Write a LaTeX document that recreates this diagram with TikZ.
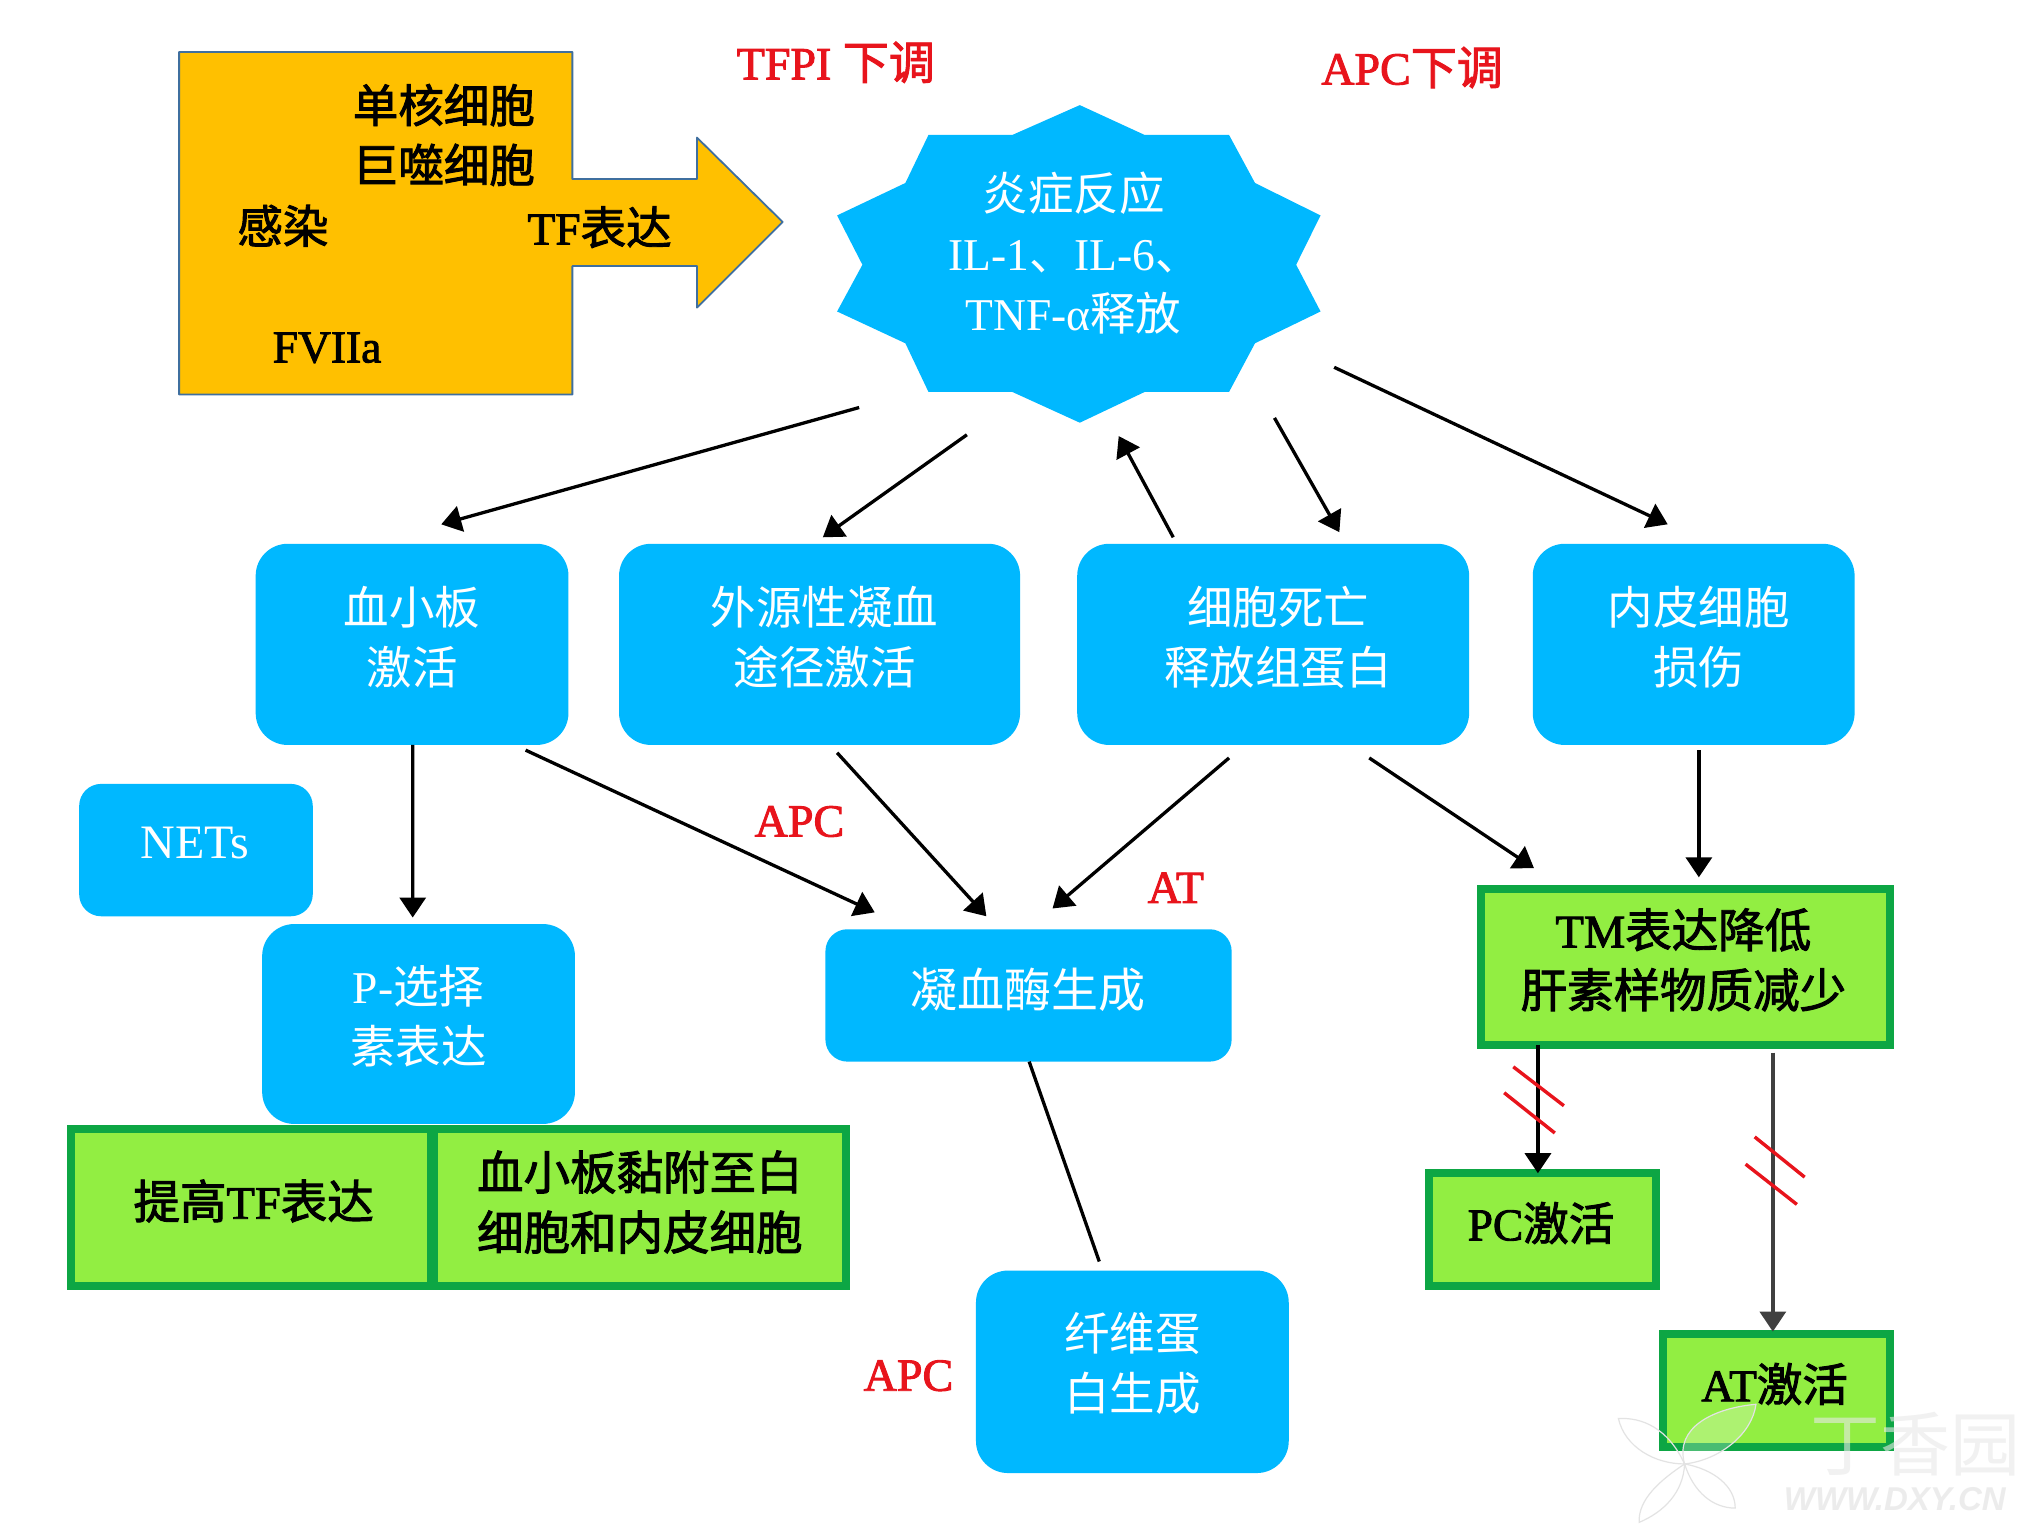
\documentclass[tikz,border=0pt]{standalone}
\usepackage{fontspec}
\usetikzlibrary{arrows.meta}
\setmainfont{Liberation Serif}
\newfontfamily\cjk{Noto Sans CJK SC}
\newfontfamily\cjkb[FakeBold=2]{Noto Sans CJK SC}
\newfontfamily\latb[FakeBold=2]{Liberation Serif}
\newfontfamily\wm{Liberation Sans}
\definecolor{sky}{HTML}{00B8FF}
\definecolor{amber}{HTML}{FFC000}
\definecolor{leaf}{HTML}{92EE42}
\definecolor{leafedge}{HTML}{0DA644}
\definecolor{alert}{HTML}{E8141C}
\def\uu{1.2978pt}
\let\zhfont\cjk
\newcommand{\zh}[1]{{\zhfont #1}}
\newcommand{\sh}[1]{\hspace*{#1pt}}
\newcommand{\ub}[1]{\\[\dimexpr #1pt*2-52pt\relax]\mbox{}}
\tikzset{
  x=1.2978pt,y=-1.2978pt,
  txt/.style={font=\fontsize{45.5}{60}\selectfont,align=center,inner sep=0pt,outer sep=0pt},
  fs/.style={font=\fontsize{#1}{60}\selectfont},
  heavy/.style={execute at begin node={\latb\let\zhfont\cjkb}},
  bluebox/.style={txt,fill=sky,text=white,rounded corners=32pt},
  greenbox/.style={txt,heavy,fill=leaf,draw=leafedge,line width=8pt,text=black,outer sep=0pt},
  dark/.style={txt,heavy,text=black},
  redtxt/.style={txt,heavy,text=alert,font=\fontsize{46}{60}\selectfont},
  arr/.style={line width=3.3pt,black,-{Triangle[length=20pt,width=26pt]}},
  plainline/.style={line width=3.3pt,black},
  slash/.style={line width=3.4pt,alert},
  wmline/.style={line width=1.2pt,black!11}
}
\begin{document}
\begin{tikzpicture}
\useasboundingbox (0,0) rectangle (1568,1183.5);
\fill[white] (0,0) rectangle (1568,1183.5);
% yellow block arrow
\definecolor{amberedge}{HTML}{3F6F9F}
\draw[fill=amber,draw=amberedge,line width=1.8pt,line join=round]
  (138,40) -- (441,40) -- (441,138) -- (537,138) -- (537,106) -- (603,171) -- (537,237) -- (537,205) -- (441,205) -- (441,304) -- (138,304) -- cycle;
\node[dark] (mono) at (342,81) {\zh{单核细胞}};
\node[dark] (macro) at (342,127) {\zh{巨噬细胞}};
\node[dark] (inf) at (218,174) {\zh{感染}};
\node[dark] (tf) at (462,175) {TF\zh{表达}};
\node[dark] (f7) at (252,268) {FVIIa};
% star
\fill[sky] (832,81) -- (882,104) -- (947,104) -- (967,141) -- (1017.5,166) -- (998.7,204) -- (1017.5,240) -- (967,264.5) -- (947,302) -- (882,302) -- (832,325.7) -- (780,302) -- (715.4,302) -- (697.6,264.5) -- (645,240) -- (664.5,204) -- (645,166) -- (697.6,141) -- (715.4,104) -- (780,104) -- cycle;
\node[txt,text=white] (star) at (831,203.5) {\sh{-10}\zh{炎症反应}\\ \sh{-8}IL-1\zh{、}IL-6\zh{、}\\ \sh{-10}TNF-α\zh{释放}\ub{8.5}};
% blue boxes
\node[bluebox,minimum width=241*\uu,minimum height=155*\uu] (plate) at (317.5,496.5) {\zh{血小板}\\\zh{激活}\ub{5}};
\node[bluebox,minimum width=309*\uu,minimum height=155*\uu] (ext) at (631.5,496.5) {\sh{10}\zh{外源性凝血}\\\sh{10}\zh{途径激活}\ub{5}};
\node[bluebox,minimum width=302*\uu,minimum height=155*\uu] (death) at (981,496.5) {\sh{10}\zh{细胞死亡}\\\sh{10}\zh{释放组蛋白}\ub{5}};
\node[bluebox,minimum width=248*\uu,minimum height=155*\uu] (endo) at (1305,496.5) {\sh{10}\zh{内皮细胞}\\\sh{10}\zh{损伤}\ub{5}};
\node[bluebox,fs=48,minimum width=180*\uu,minimum height=102*\uu,rounded corners=22pt] (nets) at (151,655) {\sh{-2}NETs\ub{3}};
\node[bluebox,minimum width=241*\uu,minimum height=154*\uu] (psel) at (322.5,789) {P-\zh{选择}\\\zh{素表达}\ub{5.5}};
\node[bluebox,fs=47,minimum width=313*\uu,minimum height=102*\uu,rounded corners=22pt] (thr) at (792.5,767) {\sh{-2}\zh{凝血酶生成}\ub{3.5}};
\node[bluebox,minimum width=241*\uu,minimum height=156*\uu] (fib) at (872.5,1057) {\zh{纤维蛋}\\\zh{白生成}\ub{6}};
% green boxes
\node[greenbox,fs=46.5,minimum width=315*\uu,minimum height=120*\uu] (tm) at (1299,745) {\sh{-5}TM\zh{表达降低}\\\sh{-5}\zh{肝素样物质减少}\ub{5}};
\node[greenbox,minimum width=175*\uu,minimum height=87*\uu] (pc) at (1188.5,947.5) {\sh{-3}PC\zh{激活}\ub{4.5}};
\node[greenbox,minimum width=175*\uu,minimum height=87*\uu] (at) at (1368.5,1071.5) {\sh{-3}AT\zh{激活}\ub{4.5}};
\node[greenbox,fs=46.5,minimum width=277*\uu,minimum height=121*\uu] (tfup) at (193.5,930.5) {\sh{5}\zh{提高}TF\zh{表达}\ub{4.5}};
\node[greenbox,fs=46.5,minimum width=317*\uu,minimum height=121*\uu] (adh) at (493,930.5) {\zh{血小板黏附至白}\\\zh{细胞和内皮细胞}\ub{3.5}};
% red labels
\node[redtxt] (l1) at (644,48) {TFPI \zh{下调}};
\node[redtxt] (l2) at (1088,52) {APC\zh{下调}};
\node[redtxt] (l3) at (616,633) {APC};
\node[redtxt] (l4) at (906,684) {AT};
\node[redtxt] (l5) at (700,1060) {APC};
% connectors
\draw[arr] ([shift={(-169,110.5)}]star.center) -- ([shift={(22.5,-15)}]plate.north);
\draw[arr] ([shift={(-86,131.5)}]star.center) -- ([shift={(2.5,-5)}]ext.north);
\draw[arr] ([shift={(-77,-5)}]death.north) -- ([shift={(31,132.5)}]star.center);
\draw[arr] ([shift={(151,118.5)}]star.center) -- ([shift={(51,-9)}]death.north);
\draw[arr] ([shift={(197,79.5)}]star.center) -- ([shift={(-20,-15)}]endo.north);
\draw[arr] ([shift={(0.5,0)}]plate.south) -- ([shift={(-4.5,-5)}]psel.north);
\draw[arr] ([shift={(87.5,4)}]plate.south) -- ([shift={(-118.5,-13)}]thr.north);
\draw[arr] ([shift={(13.5,6)}]ext.south) -- ([shift={(-32.5,-10)}]thr.north);
\draw[arr] ([shift={(-34,10)}]death.south) -- ([shift={(18.5,-16)}]thr.north);
\draw[arr] ([shift={(74,10)}]death.south) -- ([shift={(-117,-16)}]tm.north);
\draw[arr] ([shift={(4,4)}]endo.south) -- ([shift={(10,-9)}]tm.north);
\draw[plainline] ([shift={(0.5,0)}]thr.south) -- ([shift={(-25.5,-7)}]fib.north);
\draw[arr] ([shift={(-114,0)}]tm.south) -- ([shift={(-3.5,0)}]pc.north);
\draw[arr,black!75] ([shift={(67,6)}]tm.south) -- ([shift={(-2.5,-2)}]at.north);
% red double strokes
\draw[slash] (1166,822) -- (1205,852);
\draw[slash] (1159,842) -- (1198,873);
\draw[slash] (1352,876) -- (1390.5,907);
\draw[slash] (1345,897) -- (1384.5,928);
% watermark
\node[inner sep=0pt,text=black!9,text opacity=.6,font=\fontsize{70}{70}\selectfont] (wm1) at (1476,1113) {\zh{丁香园}};
\node[inner sep=0pt,text=black!9,text opacity=.8,font=\fontsize{33}{33}\selectfont\bfseries\itshape\wm] (wm2) at (1460,1155) {WWW.DXY.CN};
\draw[wmline] (1298,1128) .. controls (1285,1100) and (1265,1092) .. (1247,1093) .. controls (1252,1115) and (1275,1128) .. (1298,1128);
\draw[wmline,fill=white,fill opacity=.25] (1298,1128) .. controls (1290,1100) and (1320,1085) .. (1353,1082) .. controls (1350,1105) and (1325,1125) .. (1298,1128);
\draw[wmline] (1298,1128) .. controls (1305,1150) and (1320,1162) .. (1337,1162) .. controls (1337,1145) and (1320,1132) .. (1298,1128);
\draw[wmline] (1298,1128) .. controls (1280,1140) and (1262,1155) .. (1263,1173) .. controls (1282,1165) and (1297,1150) .. (1298,1128);
\end{tikzpicture}
\end{document}
